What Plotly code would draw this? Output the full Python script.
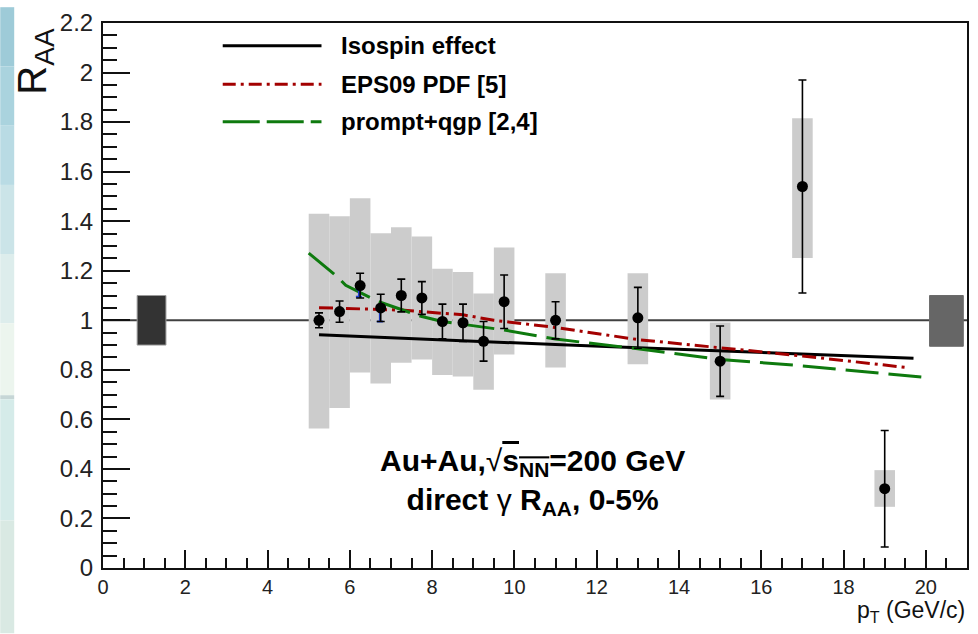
import plotly.graph_objects as go

# ---------------- data ----------------
pt = [5.25, 5.75, 6.25, 6.75, 7.25, 7.75, 8.25, 8.75, 9.25, 9.75, 11, 13, 15, 17, 19]
raa = [1.00, 1.035, 1.14, 1.05, 1.10, 1.09, 0.995, 0.99, 0.915, 1.075, 1.00, 1.01, 0.835, 1.54, 0.32]
stat_err = [0.03, 0.043, 0.05, 0.055, 0.066, 0.066, 0.07, 0.075, 0.08, 0.108, 0.075, 0.123, 0.142, 0.43, 0.235]
sys_lo = [0.563, 0.646, 0.789, 0.745, 0.829, 0.842, 0.779, 0.773, 0.720, 0.862, 0.809, 0.822, 0.680, 1.251, 0.247]
sys_hi = [1.430, 1.420, 1.493, 1.351, 1.376, 1.338, 1.208, 1.195, 1.108, 1.294, 1.190, 1.190, 0.991, 1.816, 0.395]
bin_width = 0.5

blue_pt = [6.22, 6.73]
blue_raa = [1.125, 1.045]
blue_err_lo = [0.03, 0.05]

norm_x = [1.18, 20.5]
norm_lo = [0.90, 0.895]
norm_hi = [1.10, 1.10]
norm_w = [0.70, 0.82]

iso_x = [5.25, 7, 9, 11, 13, 15, 17, 19.7]
iso_y = [0.942, 0.929, 0.914, 0.902, 0.889, 0.877, 0.864, 0.847]

eps_x = [5.25, 6, 7.25, 8.75, 9.5, 11, 13, 15, 17, 19.55]
eps_y = [1.051, 1.048, 1.041, 1.022, 1.0, 0.971, 0.922, 0.889, 0.856, 0.809]

qgp_x = [5.0, 5.7, 5.9, 6.7, 7.75, 8.25, 9.7, 11, 13, 15, 17, 20]
qgp_y = [1.271, 1.175, 1.141, 1.075, 1.015, 0.995, 0.962, 0.924, 0.885, 0.842, 0.816, 0.769]

legend_labels = ["Isospin effect", "EPS09 PDF [5]", "prompt+qgp [2,4]"]
x_ticks = list(range(0, 21, 2))

# ---------------- layout helpers ----------------
W, H = 978, 634
ML, MR, MT, MB = 103, 9, 16, 66
PW, PH = W - ML - MR, H - MT - MB
FONT = "Liberation Sans, Arial, sans-serif"


def px2x(px):
    return (px - ML) / PW


def py2y(py):
    return (H - MB - py) / PH


fig = go.Figure()

# systematic boxes
fig.add_trace(go.Bar(
    x=pt, base=sys_lo, y=[h - l for h, l in zip(sys_hi, sys_lo)],
    width=bin_width, marker=dict(color="#cccccc", line=dict(width=0)),
    showlegend=False, hoverinfo="skip"))

# global normalisation boxes
fig.add_trace(go.Bar(
    x=norm_x, base=norm_lo, y=[h - l for h, l in zip(norm_hi, norm_lo)],
    width=norm_w, marker=dict(color=["#333333", "#666666"],
                              line=dict(color=["#9a9a9a", "#6a6a6a"], width=1)),
    showlegend=False, hoverinfo="skip"))

# theory curves
fig.add_trace(go.Scatter(x=iso_x, y=iso_y, mode="lines",
                         line=dict(color="black", width=3), showlegend=False))
fig.add_trace(go.Scatter(x=eps_x, y=eps_y, mode="lines",
                         line=dict(color="#a30000", width=3, dash="14px,5px,3px,5px"),
                         showlegend=False))
fig.add_trace(go.Scatter(x=qgp_x, y=qgp_y, mode="lines",
                         line=dict(color="#0e7a0e", width=3, dash="33px,10px"),
                         showlegend=False))

# blue (partly hidden) points
fig.add_trace(go.Scatter(
    x=blue_pt, y=blue_raa, mode="markers",
    marker=dict(color="#1f3fd0", size=3),
    error_y=dict(type="data", symmetric=False, array=[0, 0], arrayminus=blue_err_lo,
                 color="#1f3fd0", thickness=2, width=3),
    showlegend=False))

# data points
fig.add_trace(go.Scatter(
    x=pt, y=raa, mode="markers",
    marker=dict(color="black", size=11),
    error_y=dict(type="data", array=stat_err, color="black", thickness=1.6, width=4),
    showlegend=False))

shapes = []
# slide background strip on the left
strip = [(0, 60, "#9ecbd8"), (60, 120, "#aad3de"), (120, 180, "#b9dbe4"),
         (180, 250, "#cbe4e8"), (250, 320, "#ddedec"), (320, 393, "#ecf5ee"),
         (393, 397, "#c6d6d6"), (397, 520, "#d5ebe9"), (520, 634, "#d9e9e3")]
for y0, y1, c in strip:
    shapes.append(dict(type="rect", xref="paper", yref="paper",
                       x0=px2x(0), x1=px2x(14), y0=py2y(y1), y1=py2y(y0),
                       fillcolor=c, line=dict(width=0), layer="below"))
# reference line at 1
shapes.append(dict(type="line", xref="paper", yref="y", x0=0, x1=1, y0=1, y1=1,
                   line=dict(color="#404040", width=2), layer="below"))

# legend
leg_styles = [dict(color="black", width=3),
              dict(color="#a30000", width=3, dash="13px,5px,3px,5px"),
              dict(color="#0e7a0e", width=3, dash="37px,7px")]
leg_y = [39, 78, 116]
annotations = []
for lab, st, ly in zip(legend_labels, leg_styles, leg_y):
    shapes.append(dict(type="line", xref="paper", yref="paper",
                       x0=px2x(223), x1=px2x(322), y0=py2y(ly), y1=py2y(ly), line=st))
    annotations.append(dict(xref="paper", yref="paper", x=px2x(340), y=py2y(ly),
                            xanchor="left", yanchor="middle", showarrow=False,
                            text=lab, font=dict(family=FONT, size=24, color="black",
                                                weight="bold")))

# main label
annotations.append(dict(
    xref="paper", yref="paper", x=px2x(533), y=py2y(481), showarrow=False,
    xanchor="center", yanchor="middle", align="center",
    text=("Au+Au,<span style='font-weight:normal'>√</span>"
          "<span style='text-decoration:overline'>s<sub>NN</sub></span>=200 GeV<br>"
          "direct <span style='font-weight:normal'>γ</span> R<sub>AA</sub>, 0-5%"),
    font=dict(family=FONT, size=30, color="black", weight="bold")))

# axis titles
annotations.append(dict(
    xref="paper", yref="paper", x=px2x(34), y=py2y(55), showarrow=False,
    textangle=-90, xanchor="center", yanchor="middle",
    text="R<sub>AA</sub>", font=dict(family=FONT, size=40, color="#111")))
annotations.append(dict(
    xref="paper", yref="paper", x=px2x(969), y=py2y(612), showarrow=False,
    xanchor="right", yanchor="middle",
    text="p<sub>T</sub> (GeV/c)", font=dict(family=FONT, size=23, color="#111")))

fig.update_layout(
    width=W, height=H, margin=dict(l=ML, r=MR, t=MT, b=MB),
    paper_bgcolor="white", plot_bgcolor="white",
    barmode="overlay", showlegend=False,
    shapes=shapes, annotations=annotations,
    xaxis=dict(range=[0, 21], tickvals=x_ticks, ticks="inside", ticklen=18, tickwidth=2,
               tickcolor="#111", showline=True, linewidth=2, linecolor="#111", mirror=True,
               showgrid=False, zeroline=False, ticklabelstandoff=0,
               minor=dict(dtick=0.5, ticks="inside", ticklen=10, tickwidth=2, tickcolor="#111"),
               tickfont=dict(family=FONT, size=20, color="#222")),
    yaxis=dict(range=[0, 2.2], dtick=0.2, tick0=0, ticks="inside", ticklen=27, tickwidth=2,
               tickcolor="#111", showline=True, linewidth=2, linecolor="#111", mirror=True,
               showgrid=False, zeroline=False, ticklabelstandoff=3,
               minor=dict(dtick=0.05, ticks="inside", ticklen=14, tickwidth=2, tickcolor="#111"),
               tickfont=dict(family=FONT, size=24, color="#222")),
)

fig.write_html("out.html")
